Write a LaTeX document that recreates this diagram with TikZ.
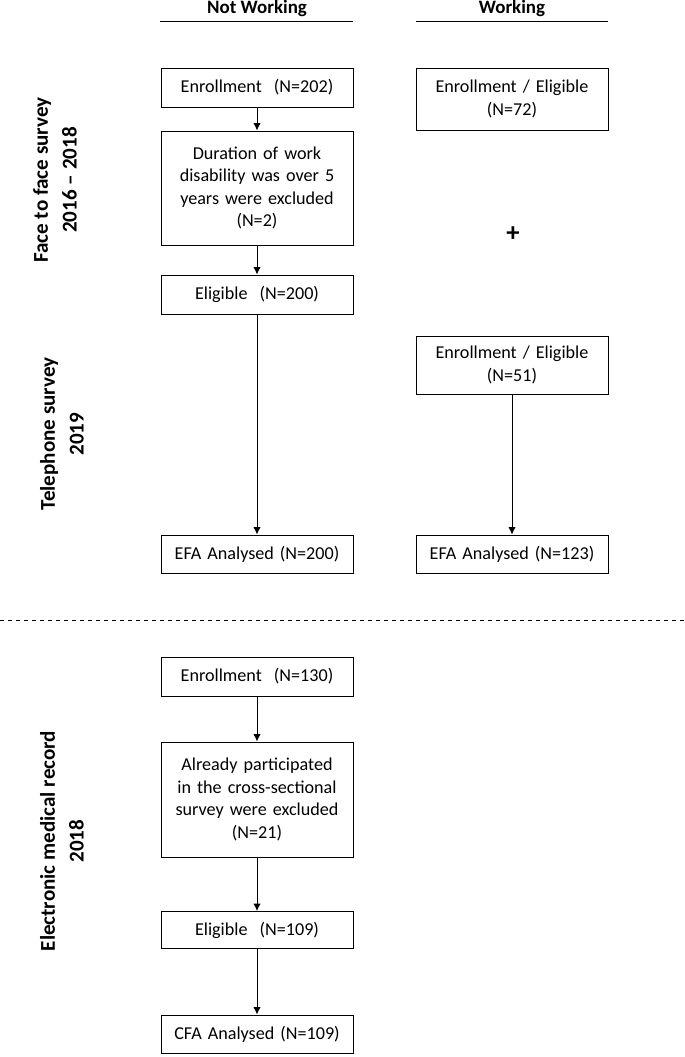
\documentclass[tikz,border=0pt]{standalone}
\usepackage{fontspec}
\setmainfont{Carlito}
\usetikzlibrary{arrows.meta}

\tikzset{every picture/.style={line width=0.75pt}}
\tikzset{
  flowbox/.style={draw, align=center, inner sep=0.75pt, minimum width=144pt, text width=140pt, font=\fontsize{13.6}{16.9}\selectfont},
  headtxt/.style={font=\bfseries\fontsize{14.2}{15}\selectfont, inner sep=0.75pt},
  sidetxt/.style={rotate=90, align=center, font=\bfseries\fontsize{15.8}{21.5}\selectfont, inner sep=0.75pt}
}

\begin{document}
\begin{tikzpicture}[x=0.75pt,y=0.75pt,yscale=-1,xscale=1,>={Latex[length=5.5pt,width=5.5pt]}]
%set diagram left start at 0, and has height of 1057
\useasboundingbox (0,0) rectangle (685,1057);

% Column headers
\draw (257,8) node [headtxt] (hdNot) {Not Working};
\draw (512,8) node [headtxt] (hdWork) {Working};
\draw (160,21) -- (353,21) ;
\draw (416,21) -- (608,21) ;

% Side labels
\draw (55,180) node [sidetxt] (lbFace) {Face to face survey\\2016 -- 2018};
\draw (62,434) node [sidetxt] (lbTel) {Telephone survey\\2019};
\draw (62,841) node [sidetxt] (lbEmr) {Electronic medical record\\2018};

% Not working column
\draw (257,87.5) node [flowbox, minimum height=29.25pt] (nw1) {Enrollment~~(N=202)};
\draw (257,188) node [flowbox, minimum height=85.5pt] (nw2) {Duration of work\\disability was over 5\\years were excluded\\(N=2)};
\draw (257,294.5) node [flowbox, minimum height=29.25pt] (nw3) {Eligible~~(N=200)};
\draw (257,554) node [flowbox, minimum height=28.5pt] (nw4) {EFA Analysed (N=200)};

% Working column
\draw (512,99) node [flowbox, minimum height=46.5pt] (wk1) {Enrollment / Eligible\\(N=72)};
\draw (513,234) node [font=\bfseries\fontsize{20}{20}\selectfont, inner sep=0.75pt] (plus) {+};
\draw (512,365) node [flowbox, minimum height=43.5pt] (wk2) {Enrollment / Eligible\\(N=51)};
\draw (512,554) node [flowbox, minimum height=28.5pt] (wk3) {EFA Analysed (N=123)};

%Straight Lines
\draw [->] (nw1) -- (nw2) ;
\draw [->] (nw2) -- (nw3) ;
\draw [->] (nw3) -- (nw4) ;
\draw [->] (wk2) -- (wk3) ;

% Dashed separator
\draw [dashed, line width=0.6pt] (0,620) -- (685,620) ;

% Electronic medical record
\draw (257,676.5) node [flowbox, minimum height=29.25pt] (emr1) {Enrollment~~(N=130)};
\draw (257,799.5) node [flowbox, minimum height=86.25pt] (emr2) {Already participated\\in the cross-sectional\\survey were excluded\\(N=21)};
\draw (257,930) node [flowbox, minimum height=27.75pt] (emr3) {Eligible~~(N=109)};
\draw (257,1034) node [flowbox, minimum height=28.5pt] (emr4) {CFA Analysed (N=109)};

\draw [->] (emr1) -- (emr2) ;
\draw [->] (emr2) -- (emr3) ;
\draw [->] (emr3) -- (emr4) ;

\end{tikzpicture}
\end{document}
